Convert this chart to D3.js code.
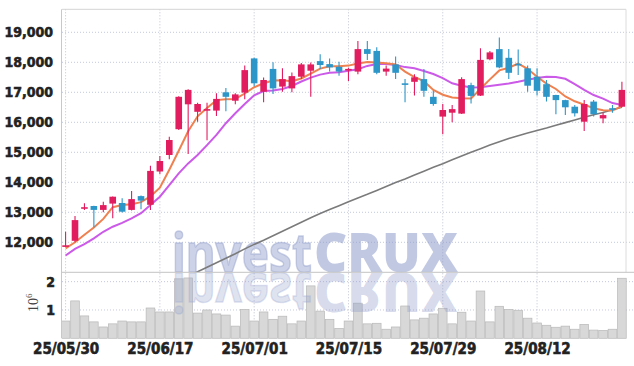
<!DOCTYPE html>
<html><head><meta charset="utf-8">
<script src="https://cdn.jsdelivr.net/npm/d3@7"></script>
<style>html,body{margin:0;padding:0;background:#fff;}svg{display:block}</style>
</head><body><svg id="c" width="634" height="366"></svg>
<script>
const dates = ["25/05/30","25/06/02","25/06/04","25/06/05","25/06/09","25/06/10","25/06/11","25/06/12","25/06/13","25/06/16",
"25/06/17","25/06/18","25/06/19","25/06/20","25/06/23","25/06/24","25/06/25","25/06/26","25/06/27","25/06/30",
"25/07/01","25/07/02","25/07/03","25/07/04","25/07/07","25/07/08","25/07/09","25/07/10","25/07/11","25/07/14",
"25/07/15","25/07/16","25/07/17","25/07/18","25/07/21","25/07/22","25/07/23","25/07/24","25/07/25","25/07/28",
"25/07/29","25/07/30","25/07/31","25/08/01","25/08/04","25/08/05","25/08/06","25/08/07","25/08/08","25/08/11",
"25/08/12","25/08/13","25/08/14","25/08/18","25/08/19","25/08/20","25/08/21","25/08/22","25/08/25","25/08/26"];
const openP = [11870,12050,13120,13210,13080,13290,13310,13080,13540,13250,14360,14910,15770,16600,16350,16400,16390,17000,16720,16990,
18130,17020,17780,17190,17130,17520,17720,18040,17940,17850,17740,17690,18440,18380,17690,17930,17300,17350,17440,16850,
16190,16320,16290,17240,16890,18100,18440,18150,17950,17800,17520,17270,16910,16740,16520,16020,16690,16130,16470,16520];
const highP = [12350,12880,13300,13220,13350,13530,13470,13710,13560,14550,14880,15520,16870,17100,16650,16650,16970,17140,16970,17890,
18150,17490,18000,17800,17660,17980,17990,18270,18130,18020,17820,18710,18710,18500,17890,18190,17440,17600,17780,17050,
16610,16580,17500,17320,18470,18380,18830,18440,18430,17890,17800,17410,16920,16750,16580,16740,16740,16330,16580,17350];
const lowP = [11850,12000,13080,12500,13000,12800,12990,13060,13100,13080,14280,14770,15740,14940,16020,15400,16210,16370,16600,16770,
17200,16670,16940,17020,17000,17440,16850,17780,17690,17550,17380,17600,18080,17600,17550,17440,16670,16890,16850,16550,
15600,16000,16280,16630,16880,18070,17800,17440,17580,17020,16890,16690,16270,16240,16190,15710,16190,15970,16320,16500];
const closeP = [11900,12740,13170,13080,13240,13520,13020,13440,13390,14380,14710,15410,16850,17080,16610,16440,16780,16850,16930,17740,
17300,17410,17130,17440,17540,17930,17930,17910,17830,17690,17780,18440,18280,17650,17790,17650,17270,17500,17050,16610,
16410,16440,17440,16880,18080,18330,17830,17650,17920,17220,17050,16850,16740,16500,16300,16610,16270,16240,16450,17080];
const volumeM = [0.61,1.32,0.79,0.58,0.40,0.51,0.61,0.58,0.58,1.07,0.93,0.93,2.10,2.13,0.89,1.00,0.86,0.82,0.43,1.02,
0.61,0.93,0.67,0.78,0.51,0.61,1.85,0.96,0.67,0.35,0.61,1.24,0.51,0.53,0.32,0.40,1.14,0.65,0.71,0.86,
1.06,0.51,0.92,0.61,1.67,0.58,1.13,1.02,0.99,0.71,0.54,0.46,0.39,0.43,0.32,0.49,0.29,0.28,0.32,2.12];
const ma5 = [11800,12000,12250,12490,12780,13170,13240,13270,13340,13530,13820,14420,15050,15700,16200,16480,16740,16770,16780,16960,
17170,17300,17390,17400,17370,17460,17620,17790,17870,17870,17890,17960,18010,17990,17970,17930,17690,17510,17370,17080,
16920,16830,16800,16790,17120,17430,17730,17820,17960,17780,17520,17290,17110,16860,16700,16590,16470,16400,16390,16540];
const ma20 = [11560,11780,11940,12130,12350,12520,12650,12800,12970,13240,13520,13910,14300,14630,14910,15240,15580,15970,16300,16610,
16900,17040,17060,17110,17210,17360,17490,17590,17650,17670,17720,17770,17880,17940,17940,17910,17840,17800,17710,17610,
17470,17300,17220,17160,17170,17210,17250,17290,17350,17420,17480,17520,17510,17450,17270,17080,16910,16790,16640,16580];
const ma60 = [null,null,null,null,null,null,null,null,null,null,null,null,null,
10870,11020,11170,11320,11470,11620,11780,11930,12070,12220,12370,12520,12670,12820,12960,13090,13220,13350,13480,13600,
13730,13860,13990,14110,14240,14370,14500,14620,14750,14880,15000,15120,15240,15350,15460,15550,15640,15730,15810,15900,
15990,16080,16170,16250,16330,16420,16500];
const xTickLabels = ["25/05/30","25/06/17","25/07/01","25/07/15","25/07/29","25/08/12"];
const yTicks = [12000,13000,14000,15000,16000,17000,18000,19000];
const volTicks = [1,2];

const L = 62, R = 625.5, T = 9.3, MB = 272.3, VB = 338.3;
const svg = d3.select("#c");
const x = d3.scalePoint().domain(dates).range([L, R]).padding(0.38);
const y = d3.scaleLinear().domain([11000, 19767]).range([MB, T]);
const yv = d3.scaleLinear().domain([0, 2.33]).range([VB, MB]);
const RED = "#e21d5f", BLUE = "#2d96c8";
const labelFont = "'Liberation Sans Narrow','DejaVu Sans Condensed',sans-serif";

const defs = svg.append("defs");
defs.append("clipPath").attr("id","clipMain").append("rect").attr("x",L).attr("y",T).attr("width",634-L).attr("height",MB-T);
defs.append("clipPath").attr("id","clipVol").append("rect").attr("x",L).attr("y",MB).attr("width",634-L).attr("height",VB-MB+1);

// gridlines
const grid = svg.append("g");
grid.selectAll(".hg").data(yTicks).join("line")
  .attr("x1",L).attr("x2",634).attr("y1",d=>y(d)).attr("y2",d=>y(d))
  .attr("stroke","#c4c8e0").attr("stroke-width",1).attr("stroke-dasharray","1,2");
grid.selectAll(".vg").data(volTicks).join("line")
  .attr("x1",L).attr("x2",634).attr("y1",d=>yv(d)).attr("y2",d=>yv(d))
  .attr("stroke","#c4c8e0").attr("stroke-width",1).attr("stroke-dasharray","1,2");
grid.selectAll(".xg").data(xTickLabels).join("line")
  .attr("x1",d=>x(d)).attr("x2",d=>x(d)).attr("y1",T).attr("y2",VB)
  .attr("stroke","#c0c2d0").attr("stroke-width",1).attr("stroke-dasharray","1,2");

// volume bars
const bw = x.step();
svg.append("g").attr("clip-path","url(#clipVol)").selectAll("rect").data(dates).join("rect")
  .attr("x",(d)=>x(d)-bw/2+0.4).attr("width",bw-0.8)
  .attr("y",(d,i)=>yv(volumeM[i])).attr("height",(d,i)=>VB-yv(volumeM[i]))
  .attr("fill","#d8d8d8").attr("stroke","#b8b8b8").attr("stroke-width",0.7);

// watermark
const wm = svg.append("g").attr("font-family","'Noto Sans','DejaVu Sans',sans-serif").attr("font-weight","bold");
function wmText(g, op){
  g.append("text").attr("x",172).attr("y",272).attr("font-size",54).attr("textLength",140).attr("lengthAdjust","spacingAndGlyphs")
    .attr("fill","#9aa6d0").attr("fill-opacity",op).attr("stroke","#9aa6d0").attr("stroke-opacity",op).attr("stroke-width",1.6)
    .attr("paint-order","stroke").text("invest");
  g.append("text").attr("x",314).attr("y",272).attr("font-size",54).attr("textLength",144).attr("lengthAdjust","spacingAndGlyphs")
    .attr("fill","#8c99c9").attr("fill-opacity",op+0.04).attr("font-weight",900).text("CRUX");
}
wmText(wm.append("g").attr("clip-path","url(#clipMain)"), 0.5);
wmText(wm.append("g").attr("clip-path","url(#clipVol)").append("g").attr("transform","translate(0,545) scale(1,-1)"), 0.32);

// moving averages
const lineGen = arr => d3.line().defined((d,i)=>arr[i]!==null).x(d=>x(d)).y((d,i)=>y(arr[i]))(dates);
const lines = svg.append("g").attr("clip-path","url(#clipMain)").attr("fill","none");
lines.append("path").attr("d",lineGen(ma60)).attr("stroke","#7b7b7b").attr("stroke-width",1.6);
lines.append("path").attr("d",lineGen(ma20)).attr("stroke","#cc5ae8").attr("stroke-width",2);
lines.append("path").attr("d",lineGen(ma5)).attr("stroke","#ef8150").attr("stroke-width",2);

// candles
const cw = 6.6;
const cg = svg.append("g").attr("clip-path","url(#clipMain)");
const candles = cg.selectAll("g").data(dates).join("g");
candles.append("line").attr("x1",d=>x(d)).attr("x2",d=>x(d))
  .attr("y1",(d,i)=>y(highP[i])).attr("y2",(d,i)=>y(lowP[i]))
  .attr("stroke",(d,i)=>closeP[i]>=openP[i]?RED:BLUE).attr("stroke-width",1.1);
candles.append("rect").attr("x",d=>x(d)-cw/2).attr("width",cw)
  .attr("y",(d,i)=>y(Math.max(openP[i],closeP[i])))
  .attr("height",(d,i)=>Math.max(1.6, Math.abs(y(openP[i])-y(closeP[i]))))
  .attr("fill",(d,i)=>closeP[i]>=openP[i]?RED:BLUE);

// frame
svg.append("line").attr("x1",L).attr("x2",626).attr("y1",T).attr("y2",T).attr("stroke","#d4d4d4");
svg.append("line").attr("x1",626).attr("x2",626).attr("y1",T).attr("y2",MB).attr("stroke","#dcdcdc");
svg.append("line").attr("x1",L).attr("x2",634).attr("y1",MB).attr("y2",MB).attr("stroke","#c4c4c4");
svg.append("line").attr("x1",L-0.5).attr("x2",L-0.5).attr("y1",T).attr("y2",VB).attr("stroke","#c8c8c8");

// axes
function styleLabels(sel, size){
  sel.selectAll("text").attr("font-family",labelFont).attr("font-weight","bold").attr("font-size",size)
    .attr("fill","#222").attr("stroke","#222").attr("stroke-width",0.55);
}
const ya = svg.append("g").attr("transform",`translate(${L},0)`)
  .call(d3.axisLeft(y).tickValues(yTicks).tickFormat(d3.format(",")).tickSize(0).tickPadding(9));
ya.select(".domain").remove();
styleLabels(ya, 14);

const va = svg.append("g").attr("transform",`translate(${L},0)`)
  .call(d3.axisLeft(yv).tickValues(volTicks).tickFormat(d3.format("d")).tickSize(0).tickPadding(7));
va.select(".domain").remove();
styleLabels(va, 14);

const xa = svg.append("g").attr("transform",`translate(0,${VB})`)
  .call(d3.axisBottom(x).tickValues(xTickLabels).tickSize(0).tickPadding(5));
xa.select(".domain").remove();
styleLabels(xa, 15);

const ut = svg.append("text").attr("transform","translate(37.7,312) rotate(-90)")
  .attr("font-family","'Liberation Serif','DejaVu Serif',serif").attr("font-size",14).attr("fill","#444");
ut.append("tspan").text("10");
ut.append("tspan").attr("font-size",9).attr("dy",-6).text("6");
</script></body></html>
